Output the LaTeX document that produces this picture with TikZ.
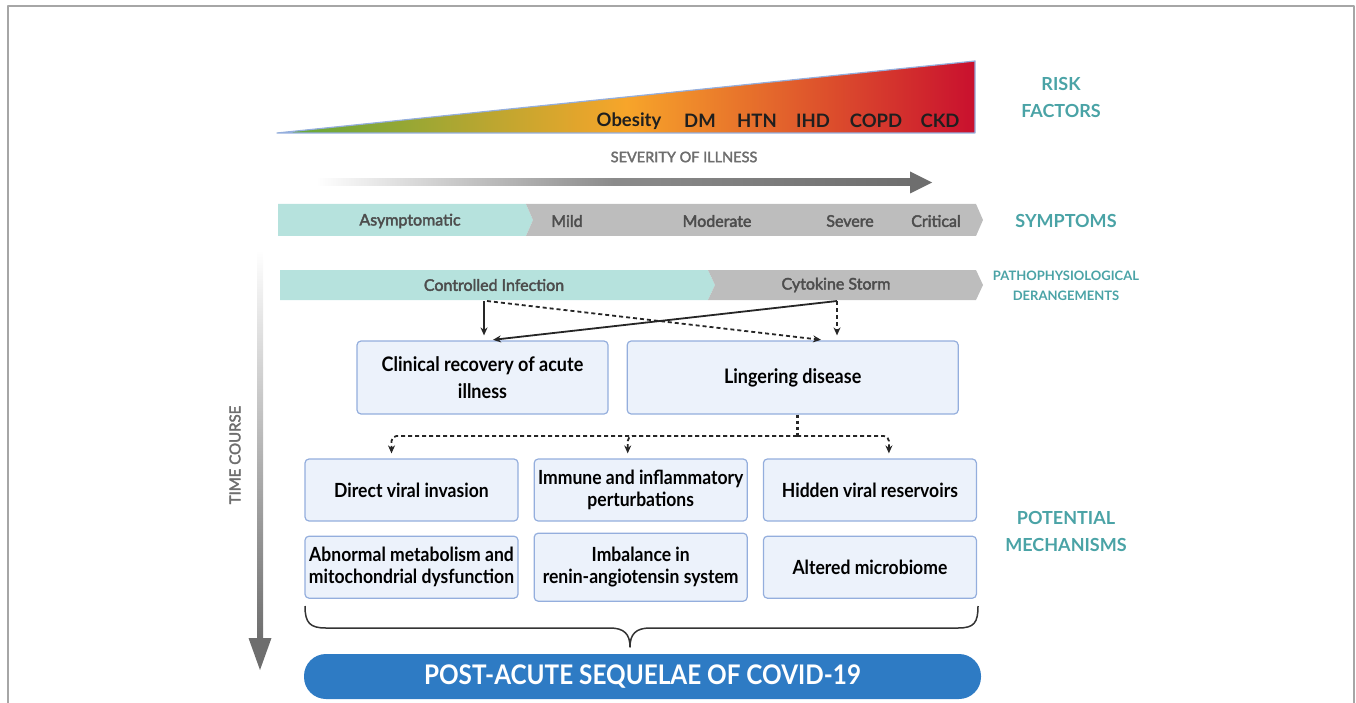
\documentclass[tikz,border=0pt]{standalone}
\usepackage{fontspec}
\setmainfont{Lato}
\newfontfamily\narrowfont[FakeStretch=0.9]{Lato}
\newfontfamily\medfont[FakeBold=2.5]{Lato}
\usetikzlibrary{arrows.meta,positioning}
\definecolor{title teal}{HTML}{4AA3A6}
\definecolor{bar teal}{HTML}{B6E2DD}
\definecolor{bar gray}{HTML}{BDBDBD}
\definecolor{bar text}{HTML}{4D4D4D}
\definecolor{box fill}{HTML}{ECF2FB}
\definecolor{box line}{HTML}{94AEDD}
\definecolor{pill blue}{HTML}{2E7BC4}
\definecolor{axis gray}{HTML}{6E6E6E}
\definecolor{risk green}{HTML}{5EA83A}
\definecolor{risk orange}{HTML}{F7A52A}
\definecolor{risk red}{HTML}{C9102E}
\pgfdeclarehorizontalshading{risk shade}{100bp}{color(0bp)=(risk green); color(25bp)=(risk green);
    color(50bp)=(risk orange); color(75bp)=(risk red); color(100bp)=(risk red)}
\tikzstyle{mech box}=[
        draw = box line,
        fill = box fill,
        line width = 1.2pt,
        rounded corners = 4pt,
        minimum width = 213pt,
        minimum height = 62pt,
        align = center,
        inner sep = 2pt,
        font = \narrowfont\bfseries\fontsize{19.5}{22}\selectfont
    ]
\tikzstyle{side title}=[
        text = title teal,
        align = center,
        font = \bfseries\fontsize{18}{27}\selectfont
    ]

\begin{document}
\begin{tikzpicture}[x=1pt, y=-1pt, line join=round,
        bar label/.style = {text = bar text, font = \medfont\fontsize{16}{19}\selectfont},
        risk label/.style = {text = black!88, font = \bfseries\fontsize{18.5}{22}\selectfont},
        link/.style = {line width = 1.8pt, black!85, -{Stealth[length=8pt, width=7pt]}, shorten >= 5pt},
        dash link/.style = {link, dash pattern = on 4pt off 3pt}]
        \useasboundingbox (0,0) rectangle (1356,703);
        \draw[black!35, line width=1.2pt] (8,703) -- (8,6) -- (1354,6) -- (1354,703);

        % risk factors
        \draw[draw=box line, line width=1.2pt, shading=risk shade]
            (277,133) -- (975,61) -- (975,133) -- cycle;
        \node[risk label] (obesity) at (629,121) {Obesity};
        \node[risk label] (dm) at (700,121) {DM};
        \node[risk label] (htn) at (757,121) {HTN};
        \node[risk label] (ihd) at (813,121) {IHD};
        \node[risk label] (copd) at (876,121) {COPD};
        \node[risk label] (ckd) at (940,121) {CKD};
        \node[side title] (risk) at (1061,97) {RISK\\FACTORS};

        % severity arrow
        \node[text=axis gray, font=\medfont\fontsize{14.5}{17}\selectfont] (severity) at (684,157) {SEVERITY OF ILLNESS};
        \fill[left color=white, right color=axis gray, middle color=axis gray!80] (316,179) rectangle (912,186);
        \fill[axis gray] (910,171.5) -- (932,182.5) -- (910,193.5) -- cycle;

        % symptoms
        \fill[bar teal] (278,204) -- (526,204) -- (533,220) -- (526,236) -- (278,236) -- cycle;
        \fill[bar gray] (526,204) -- (976,204) -- (983,220) -- (976,236) -- (526,236) -- (533,220) -- cycle;
        \node[bar label] (asym) at (410,221) {Asymptomatic};
        \node[bar label] (mild) at (567,221) {Mild};
        \node[bar label] (moderate) at (717,221) {Moderate};
        \node[bar label] (severe) at (850,221) {Severe};
        \node[bar label] (critical) at (936,221) {Critical};
        \node[side title] (symptoms) at (1066,221) {SYMPTOMS};

        % pathophysiological derangements
        \fill[bar teal] (280,270) -- (708,270) -- (715,285) -- (708,300) -- (280,300) -- cycle;
        \fill[bar gray] (708,270) -- (976,270) -- (983,285) -- (976,300) -- (708,300) -- (715,285) -- cycle;
        \node[bar label] (controlled) at (494,285) {Controlled Infection};
        \node[bar label] (cytokine) at (836,285) {Cytokine Storm};
        \node[side title, font=\bfseries\fontsize{13}{19.5}\selectfont] (patho) at (1066,286) {PATHOPHYSIOLOGICAL\\DERANGEMENTS};
        \coordinate (ci out) at (484,301);
        \coordinate (cs out) at (837,301);

        % time course
        \fill[top color=white, bottom color=axis gray] (257,250) rectangle (263,640);
        \fill[axis gray] (248.5,638) -- (260,670) -- (271.5,638) -- cycle;
        \node[text=axis gray, rotate=90, font=\medfont\fontsize{15}{18}\selectfont] (time) at (235,455) {TIME COURSE};

        % outcome boxes
        \node[mech box, minimum width=251pt, minimum height=73pt, font=\narrowfont\bfseries\fontsize{20}{27}\selectfont] (clinical) at (482.5,377.5) {Clinical recovery of acute\\illness};
        \node[mech box, minimum width=331pt, minimum height=73pt, font=\narrowfont\bfseries\fontsize{20}{27}\selectfont, right=18pt of clinical] (lingering) {Lingering disease};

        \draw[link] (ci out) -- (ci out |- clinical.north);
        \draw[dash link] ([xshift=3pt]ci out) -- ([xshift=-11pt]cs out |- lingering.north);
        \draw[link] (cs out) -- ([xshift=4pt]ci out |- clinical.north);
        \draw[dash link] (cs out) -- (cs out |- lingering.north);

        % mechanisms
        \node[mech box] (invasion) at (411.5,490) {Direct viral invasion};
        \node[mech box, right=15pt of invasion] (immune) {Immune and inflammatory\\perturbations};
        \node[mech box, right=15pt of immune] (reservoir) {Hidden viral reservoirs};
        \node[mech box, below=14pt of invasion] (metabolism) {Abnormal metabolism and\\mitochondrial dysfunction};
        \node[mech box, below=11pt of immune, minimum height=68pt] (ras) {Imbalance in\\renin-angiotensin system};
        \node[mech box, below=14pt of reservoir] (microbiome) {Altered microbiome};
        \node[side title] (mech) at (1066,531) {POTENTIAL\\MECHANISMS};

        \coordinate (split) at (797,436);
        \draw[line width=3pt, black!85, dash pattern=on 3.5pt off 2.5pt] (lingering.south -| split) -- (split);
        \draw[dash link, rounded corners=5pt] (split) -| ([xshift=-20pt]invasion.north);
        \draw[dash link, rounded corners=5pt] (split) -| ([xshift=-13pt]immune.north);
        \draw[dash link, rounded corners=5pt] (split) -| ([xshift=19pt]reservoir.north);

        % brace and outcome
        \draw[line width=1.5pt, black!80]
            (305,606) .. controls (305,623) and (310,628) .. (326,628) -- (610,628)
            .. controls (624,628) and (630,634) .. (630,647)
            .. controls (630,634) and (636,628) .. (650,628) -- (958,628)
            .. controls (974,628) and (978,623) .. (978,606);
        \node[fill=pill blue, text=white, minimum width=677pt, minimum height=45pt, rounded corners=22pt,
            font=\narrowfont\bfseries\fontsize{27}{30}\selectfont] (pasc) at (642.5,676.5) {POST-ACUTE SEQUELAE OF COVID-19};
    \end{tikzpicture}
\end{document}
